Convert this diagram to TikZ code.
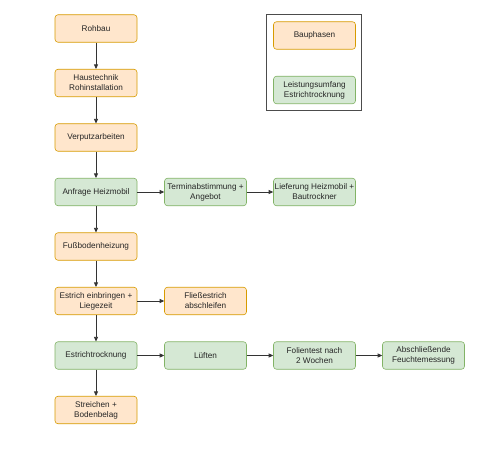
\documentclass[tikz,border=0pt]{standalone}
\usepackage{fontspec}
\setmainfont{Liberation Sans}
\usetikzlibrary{arrows.meta}
\definecolor{ofill}{HTML}{FFE6CC}
\definecolor{oline}{HTML}{D79B00}
\definecolor{gfill}{HTML}{D5E8D4}
\definecolor{gline}{HTML}{82B366}
\tikzset{
  base/.style={rounded corners=3pt, minimum width=82pt, minimum height=27.5pt, inner sep=1pt, align=center, font=\fontsize{8.2}{10}\selectfont, line width=0.6pt, text=black!85},
  phase/.style={base, draw=oline, fill=ofill},
  scope/.style={base, draw=gline, fill=gfill},
  conn/.style={-{Triangle[length=4.5pt,width=4pt]}, line width=0.7pt, black!80},
}
\begin{document}
\begin{tikzpicture}[x=1pt,y=-1pt]
\useasboundingbox (0,0) rectangle (500,449);
\node[phase] (rohbau) at (96,28.5) {Rohbau};
\node[phase] (haus) at (96,83) {Haustechnik\\Rohinstallation};
\node[phase] (putz) at (96,137.5) {Verputzarbeiten};
\node[scope] (anfrage) at (96,192) {Anfrage Heizmobil};
\node[scope] (termin) at (205.5,192) {Terminabstimmung +\\Angebot};
\node[scope] (liefer) at (314.5,192) {Lieferung Heizmobil +\\Bautrockner};
\node[phase] (fuss) at (96,246.5) {Fußbodenheizung};
\node[phase] (estrich) at (96,301) {Estrich einbringen +\\Liegezeit};
\node[phase] (fliess) at (205.5,301) {Fließestrich\\abschleifen};
\node[scope] (trock) at (96,355.5) {Estrichtrocknung};
\node[scope] (lueft) at (205.5,355.5) {Lüften};
\node[scope] (folie) at (314.5,355.5) {Folientest nach\\2 Wochen};
\node[scope] (absch) at (423.5,355.5) {Abschließende\\Feuchtemessung};
\node[phase] (streich) at (96,410) {Streichen +\\Bodenbelag};
\node[draw=black!70, line width=0.7pt, minimum width=95pt, minimum height=96pt, inner sep=0pt] (legend) at (313.5,62) {};
\node[phase] (lbau) at (314.5,35.5) {Bauphasen};
\node[scope] (lleist) at (314.5,90) {Leistungsumfang\\Estrichtrocknung};
\draw[conn] (rohbau) -- (haus);
\draw[conn] (haus) -- (putz);
\draw[conn] (putz) -- (anfrage);
\draw[conn] (anfrage) -- (termin);
\draw[conn] (termin) -- (liefer);
\draw[conn] (anfrage) -- (fuss);
\draw[conn] (fuss) -- (estrich);
\draw[conn] (estrich) -- (fliess);
\draw[conn] (estrich) -- (trock);
\draw[conn] (trock) -- (lueft);
\draw[conn] (lueft) -- (folie);
\draw[conn] (folie) -- (absch);
\draw[conn] (trock) -- (streich);
\end{tikzpicture}
\end{document}
